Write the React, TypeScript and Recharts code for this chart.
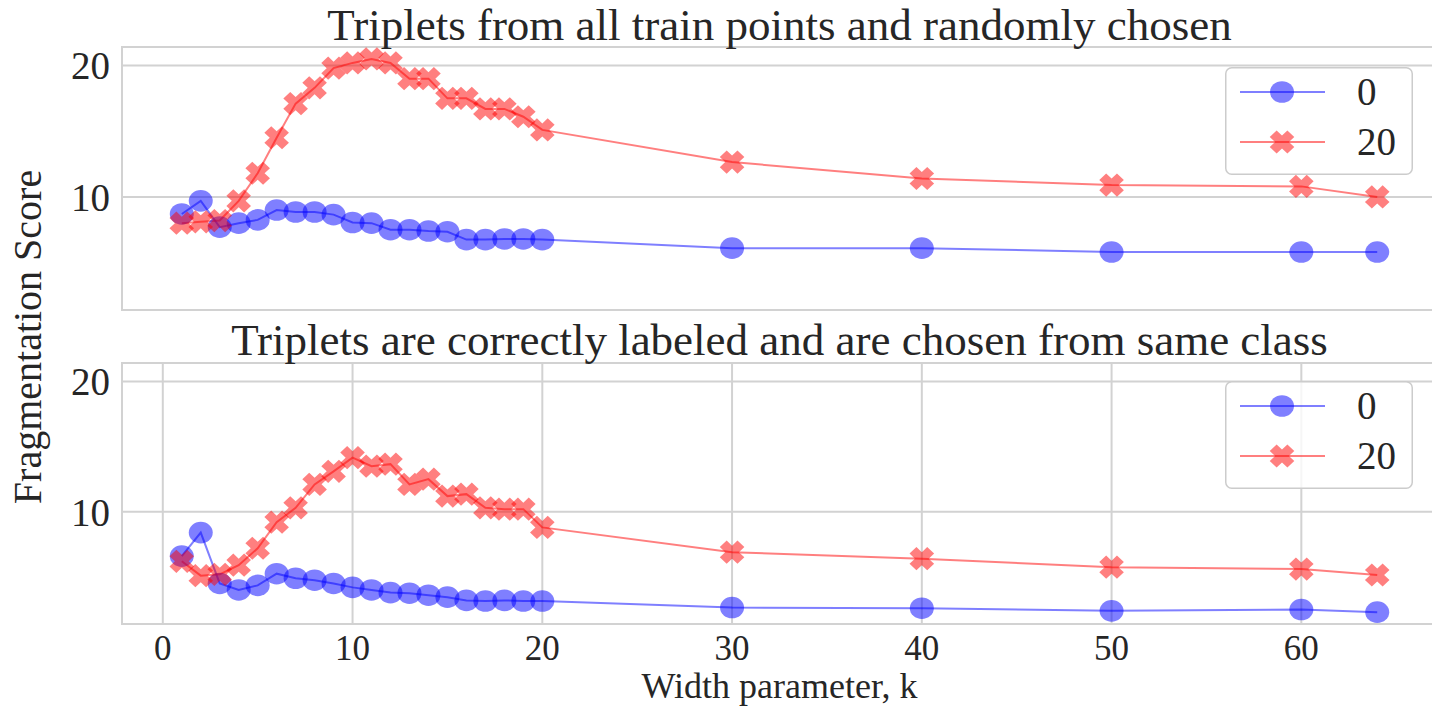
import React from 'react';
import { LineChart, Line, XAxis, YAxis, CartesianGrid, Legend, ReferenceArea } from 'recharts';

// ---------- data ----------
const kValues = [1, 2, 3, 4, 5, 6, 7, 8, 9, 10, 11, 12, 13, 14, 15, 16, 17, 18, 19, 20, 30, 40, 50, 60, 64];

// top panel: "Triplets from all train points and randomly chosen"
const topSeries0 = [8.7, 9.7, 7.7, 8.0, 8.25, 9.0, 8.85, 8.85, 8.65, 8.05, 8.0, 7.5, 7.5, 7.4, 7.35, 6.75, 6.75, 6.8, 6.8, 6.75, 6.1, 6.1, 5.8, 5.8, 5.8];
const topSeries20 = [8.0, 8.1, 8.2, 9.7, 11.8, 14.5, 17.1, 18.3, 19.8, 20.2, 20.5, 20.2, 19.0, 19.0, 17.5, 17.5, 16.7, 16.7, 16.1, 15.1, 12.65, 11.4, 10.9, 10.8, 10.0];

// bottom panel: "Triplets are correctly labeled and are chosen from same class"
const bottomSeries0 = [6.6, 8.4, 4.5, 4.0, 4.35, 5.25, 4.9, 4.75, 4.5, 4.2, 4.0, 3.8, 3.75, 3.6, 3.45, 3.2, 3.15, 3.2, 3.15, 3.15, 2.65, 2.6, 2.4, 2.5, 2.3];
const bottomSeries20 = [6.2, 5.1, 5.2, 5.9, 7.2, 9.2, 10.3, 12.1, 13.1, 14.15, 13.5, 13.65, 12.1, 12.5, 11.2, 11.35, 10.3, 10.2, 10.2, 8.8, 6.9, 6.4, 5.75, 5.6, 5.15];

const seriesNames = ['0', '20'];
const xTicks = [0, 10, 20, 30, 40, 50, 60];
const yTicks = [10, 20];
const panelTitles = [
  'Triplets from all train points and randomly chosen',
  'Triplets are correctly labeled and are chosen from same class',
];
const xAxisLabel = 'Width parameter, k';
const yAxisLabel = 'Fragmentation Score';

const X_DOMAIN: [number, number] = [-2.15, 67.15];
const Y_DOMAIN: [number, number] = [1.39, 21.41];

const buildRows = (s0: number[], s20: number[]) =>
  kValues.map((k, i) => ({ k, s0: s0[i], s20: s20[i] }));

const topRows = buildRows(topSeries0, topSeries20);
const bottomRows = buildRows(bottomSeries0, bottomSeries20);

// ---------- styles ----------
const BLUE = '#0000ff';
const RED = '#ff0000';
const FONT = '"Liberation Serif", "Times New Roman", serif';
const TEXT = '#262626';
const GRID = '#d2d2d2';
const CHART_W = 1445;

const xMarkerPath = (cx: number, cy: number) => {
  const L = 11.8;
  const w = 4.6;
  const pts = [
    [-w, -L], [w, -L], [w, -w], [L, -w], [L, w], [w, w],
    [w, L], [-w, L], [-w, w], [-L, w], [-L, -w], [-w, -w],
  ];
  const s = Math.SQRT1_2;
  return (
    pts
      .map(([x, y], i) => {
        const rx = (x - y) * s * 1.06;
        const ry = (x + y) * s;
        return `${i === 0 ? 'M' : 'L'}${(cx + rx).toFixed(2)},${(cy + ry).toFixed(2)}`;
      })
      .join(' ') + ' Z'
  );
};

const CircleDot = (p: any) => {
  if (p.cx == null || p.cy == null) return null;
  return <ellipse key={`c-${p.index}`} cx={p.cx} cy={p.cy} rx={12} ry={10.8} fill={BLUE} fillOpacity={0.5} stroke="none" />;
};

const CrossDot = (p: any) => {
  if (p.cx == null || p.cy == null) return null;
  return <path key={`x-${p.index}`} d={xMarkerPath(p.cx, p.cy)} fill={RED} fillOpacity={0.5} stroke="none" />;
};

const LegendBox = (props: any) => {
  const payload = props.payload || [];
  return (
    <svg width={188} height={108} style={{ display: 'block' }}>
      <rect x={0.75} y={0.75} width={186.5} height={106.5} rx={6} fill="#ffffff" fillOpacity={0.8} stroke="#cccccc" strokeWidth={1.5} />
      {payload.map((entry: any, i: number) => {
        const cy = 25 + i * 50;
        const isRed = entry.dataKey === 's20';
        const color = isRed ? RED : BLUE;
        return (
          <g key={`lg-${i}`}>
            <line x1={15} x2={100} y1={cy} y2={cy} stroke={color} strokeOpacity={0.5} strokeWidth={2} />
            {isRed ? (
              <path d={xMarkerPath(57, cy)} fill={RED} fillOpacity={0.5} />
            ) : (
              <ellipse cx={57} cy={cy} rx={12} ry={10.8} fill={BLUE} fillOpacity={0.5} />
            )}
            <text x={132} y={cy + 13} fontSize={39} fontFamily={FONT} fill={TEXT}>
              {entry.value}
            </text>
          </g>
        );
      })}
    </svg>
  );
};

const yTickStyle = { fontSize: 39, fill: TEXT, fontFamily: FONT };
const xTickStyle = { fontSize: 35, fill: TEXT, fontFamily: FONT };

const Panel = ({ rows, height, margin, showX, legendTop }: any) => (
  <LineChart width={CHART_W} height={height} data={rows} margin={margin}>
    <CartesianGrid stroke={GRID} strokeWidth={2} />
    {showX ? (
      <XAxis
        type="number"
        dataKey="k"
        domain={X_DOMAIN}
        ticks={xTicks}
        allowDataOverflow
        height={50}
        tick={xTickStyle}
        tickSize={0}
        tickMargin={11}
        axisLine={false}
        tickLine={false}
      />
    ) : (
      <XAxis
        type="number"
        dataKey="k"
        domain={X_DOMAIN}
        ticks={xTicks}
        allowDataOverflow
        height={0}
        tick={false}
        axisLine={false}
        tickLine={false}
      />
    )}
    <YAxis
      type="number"
      domain={Y_DOMAIN}
      ticks={yTicks}
      allowDataOverflow
      width={122}
      tick={yTickStyle}
      tickSize={0}
      tickMargin={12}
      axisLine={false}
      tickLine={false}
    />
    <ReferenceArea
      x1={X_DOMAIN[0]}
      x2={X_DOMAIN[1]}
      y1={Y_DOMAIN[0]}
      y2={Y_DOMAIN[1]}
      fill="none"
      fillOpacity={0}
      stroke={GRID}
      strokeWidth={2}
      strokeOpacity={1}
      ifOverflow="visible"
    />
    <Line
      type="linear"
      dataKey="s0"
      name={seriesNames[0]}
      stroke={BLUE}
      strokeOpacity={0.5}
      strokeWidth={2}
      dot={CircleDot}
      activeDot={false}
      isAnimationActive={false}
    />
    <Line
      type="linear"
      dataKey="s20"
      name={seriesNames[1]}
      stroke={RED}
      strokeOpacity={0.5}
      strokeWidth={2}
      dot={CrossDot}
      activeDot={false}
      isAnimationActive={false}
    />
    <Legend
      layout="horizontal"
      verticalAlign="middle"
      align="center"
      content={LegendBox}
      wrapperStyle={{ left: 1225, top: legendTop, width: 188, height: 108 }}
    />
  </LineChart>
);

export default function App() {
  return (
    <div
      style={{
        position: 'absolute',
        left: 0,
        top: 0,
        width: 1432,
        height: 706,
        overflow: 'hidden',
        background: '#ffffff',
        fontFamily: FONT,
      }}
    >
      <div style={{ position: 'absolute', left: 0, top: 0 }}>
        <Panel rows={topRows} height={330} margin={{ top: 47, right: 8, bottom: 20, left: 0 }} showX={false} legendTop={67} />
      </div>
      <div style={{ position: 'absolute', left: 0, top: 330 }}>
        <Panel rows={bottomRows} height={376} margin={{ top: 33, right: 8, bottom: 32, left: 0 }} showX={true} legendTop={51} />
      </div>
      <svg
        width={1432}
        height={706}
        style={{ position: 'absolute', left: 0, top: 0, pointerEvents: 'none' }}
      >
        <text x={779.5} y={40} textAnchor="middle" fontSize={45} fontFamily={FONT} fill={TEXT}>
          {panelTitles[0]}
        </text>
        <text x={779.5} y={355} textAnchor="middle" fontSize={45} fontFamily={FONT} fill={TEXT}>
          {panelTitles[1]}
        </text>
        <text x={779.5} y={698} textAnchor="middle" fontSize={36} fontFamily={FONT} fill={TEXT}>
          {xAxisLabel}
        </text>
        <text
          transform="translate(41,337) rotate(-90)"
          textAnchor="middle"
          fontSize={40}
          fontFamily={FONT}
          fill={TEXT}
        >
          {yAxisLabel}
        </text>
      </svg>
    </div>
  );
}
